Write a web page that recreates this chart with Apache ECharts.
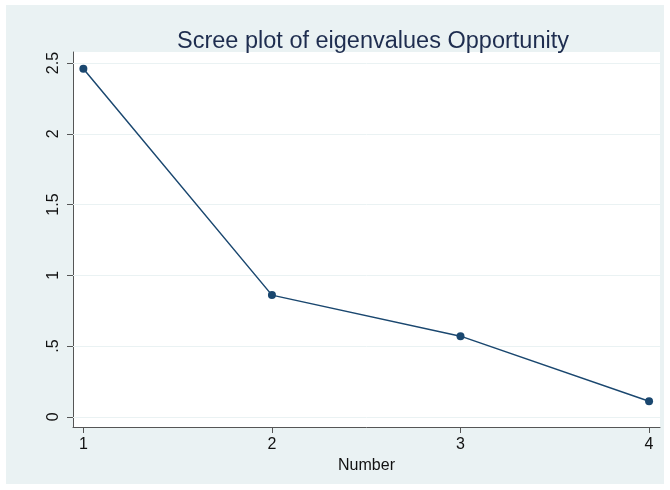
<!DOCTYPE html>
<html>
<head>
<meta charset="utf-8">
<script src="https://cdn.jsdelivr.net/npm/echarts@6/dist/echarts.min.js"></script>
<style>
  html, body { margin: 0; padding: 0; background: #ffffff; }
  #chart { width: 670px; height: 490px; }
</style>
</head>
<body>
<div id="chart"></div>
<script>
// Eigenvalues by component number
const componentNumbers = [1, 2, 3, 4];
const eigenvalues = [2.46, 0.86, 0.57, 0.11];
const yTicks = [0, 0.5, 1, 1.5, 2, 2.5];
const yTickLabels = ['0', '.5', '1', '1.5', '2', '2.5'];
const xTicks = [1, 2, 3, 4];

const navy = '#1a476f';
const axisGray = '#555555';
const textColor = '#111111';
const font = 'Liberation Sans, Arial, sans-serif';

const chart = echarts.init(document.getElementById('chart'));
chart.setOption({
  animation: false,
  backgroundColor: '#ffffff',
  graphic: [{
    type: 'rect', z: -10, silent: true,
    shape: { x: 6, y: 5, width: 658, height: 479 },
    style: { fill: '#eaf2f3' }
  }],
  title: {
    text: 'Scree plot of eigenvalues Opportunity',
    left: 368, top: 25, textAlign: 'center',
    textStyle: { fontFamily: font, fontSize: 23.5, fontWeight: 'normal', color: '#1e2d4f' }
  },
  grid: { left: 73, top: 52, right: 10, bottom: 63, show: true, backgroundColor: '#ffffff', borderWidth: 0 },
  xAxis: {
    type: 'value', min: 0.945, max: 4.058,
    name: 'Number', nameLocation: 'middle', nameGap: 28,
    nameTextStyle: { fontFamily: font, fontSize: 16, color: textColor },
    axisLine: { show: true, onZero: false, lineStyle: { color: axisGray, width: 1 } },
    axisTick: { show: true, length: 6, customValues: xTicks, lineStyle: { color: axisGray } },
    axisLabel: { customValues: xTicks, margin: 10, fontFamily: font, fontSize: 16, color: textColor, formatter: v => String(v) },
    splitLine: { show: false }
  },
  yAxis: {
    type: 'value', min: -0.072, max: 2.578,
    axisLine: { show: true, onZero: false, lineStyle: { color: axisGray, width: 1 } },
    axisTick: { show: true, length: 6, customValues: yTicks, lineStyle: { color: axisGray } },
    axisLabel: {
      customValues: yTicks, rotate: 90, margin: 11,
      fontFamily: font, fontSize: 16, color: textColor,
      formatter: v => { const i = yTicks.findIndex(t => Math.abs(t - v) < 1e-9); return i >= 0 ? yTickLabels[i] : ''; }
    },
    splitLine: { show: false }
  },
  series: [{
    type: 'line',
    data: componentNumbers.map((n, i) => [n, eigenvalues[i]]),
    symbol: 'circle', symbolSize: 8,
    lineStyle: { color: navy, width: 1.5 },
    itemStyle: { color: navy },
    z: 5,
    markLine: {
      silent: true, symbol: 'none', label: { show: false },
      lineStyle: { color: '#eaf2f3', type: 'solid', width: 1 },
      data: yTicks.map(t => ({ yAxis: t })),
      z: 1
    }
  }]
});
</script>
</body>
</html>
